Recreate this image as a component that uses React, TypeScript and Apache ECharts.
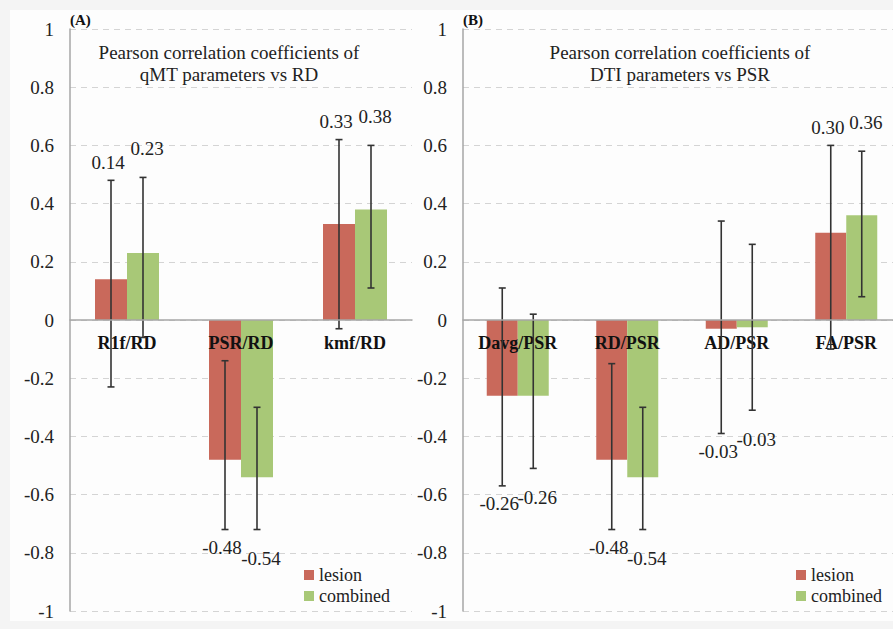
import React, { useEffect, useRef } from "react";
import * as echarts from "echarts";

const catsA = ["R1f/RD", "PSR/RD", "kmf/RD"];
const lesionA = [0.14, -0.48, 0.33];
const combinedA = [0.23, -0.54, 0.38];
const lesionLoA = [-0.23, -0.72, -0.03];
const lesionHiA = [0.48, -0.14, 0.62];
const combinedLoA = [-0.06, -0.72, 0.11];
const combinedHiA = [0.49, -0.3, 0.6];

const catsB = ["Davg/PSR", "RD/PSR", "AD/PSR", "FA/PSR"];
const lesionB = [-0.26, -0.48, -0.03, 0.3];
const combinedB = [-0.26, -0.54, -0.025, 0.36];
const lesionLoB = [-0.57, -0.72, -0.39, -0.1];
const lesionHiB = [0.11, -0.15, 0.34, 0.6];
const combinedLoB = [-0.51, -0.72, -0.31, 0.08];
const combinedHiB = [0.02, -0.3, 0.26, 0.58];

const yTicks = { min: -1, max: 1, interval: 0.2 };

const RED = "#C9695B";
const GREEN = "#A8C877";
const FONT = "Liberation Serif";

function errData(lesion: number[], lo1: number[], hi1: number[], comb: number[], lo2: number[], hi2: number[]) {
  const out: number[][] = [];
  lesion.forEach((v, i) => out.push([i, lo1[i], hi1[i], 0, v]));
  comb.forEach((v, i) => out.push([i, lo2[i], hi2[i], 1, v]));
  return out;
}

function makeErrSeries(idx: number, data: number[][], bw: number) {
  return {
    type: "custom",
    xAxisIndex: idx,
    yAxisIndex: idx,
    z: 6,
    silent: true,
    data,
    renderItem: (_p: any, api: any) => {
      const cat = api.value(0);
      const lo = api.value(1);
      const hi = api.value(2);
      const s = api.value(3);
      const v = api.value(4);
      const c = api.coord([cat, 0]);
      const x = c[0] + (s === 0 ? -bw / 2 : bw / 2);
      const yLo = api.coord([cat, lo])[1];
      const yHi = api.coord([cat, hi])[1];
      const st = { stroke: "#333", lineWidth: 1.6 };
      const off = s === 0 ? 18 : 29;
      const ty = v >= 0 ? yHi - off : yLo + off;
      const tx = x + (s === 0 ? -3 : 4);
      return {
        type: "group",
        children: [
          { type: "line", shape: { x1: x, y1: yLo, x2: x, y2: yHi }, style: st },
          { type: "line", shape: { x1: x - 3.5, y1: yLo, x2: x + 3.5, y2: yLo }, style: st },
          { type: "line", shape: { x1: x - 3.5, y1: yHi, x2: x + 3.5, y2: yHi }, style: st },
          {
            type: "text",
            x: tx,
            y: ty,
            style: {
              text: v.toFixed(2),
              fill: "#222",
              fontFamily: FONT,
              fontSize: 19,
              align: "center",
              verticalAlign: "middle",
            },
          },
        ],
      };
    },
  };
}

function makeCatLabelSeries(idx: number, cats: string[]) {
  return {
    type: "custom",
    xAxisIndex: idx,
    yAxisIndex: idx,
    z: 5,
    silent: true,
    data: cats.map((_c, i) => [i, 0]),
    renderItem: (params: any, api: any) => {
      const p = api.coord([api.value(0), api.value(1)]);
      return {
        type: "text",
        x: p[0],
        y: p[1] + 14,
        style: {
          text: cats[params.dataIndex],
          fill: "#111",
          fontFamily: FONT,
          fontSize: 18,
          fontWeight: "bold",
          align: "center",
          verticalAlign: "top",
        },
      };
    },
  };
}

export default function App() {
  const ref = useRef<HTMLDivElement>(null);
  useEffect(() => {
    document.body.style.margin = "0";
    const chart = echarts.init(ref.current!, undefined, { renderer: "svg" });
    const yAxisBase = {
      type: "value",
      ...yTicks,
      axisLine: { show: true, lineStyle: { color: "#a6a6a6", width: 1.5 } },
      axisTick: { show: false },
      axisLabel: { color: "#222", fontFamily: FONT, fontSize: 19, margin: 16 },
      splitLine: { show: true, lineStyle: { color: "#d4d4d4", type: [6, 5], width: 1 } },
    };
    const xAxisBase = {
      type: "category",
      z: 10,
      axisLine: { onZero: true, lineStyle: { color: "#a6a6a6", width: 1.5 } },
      axisTick: { show: false },
      axisLabel: { show: false },
      splitLine: { show: false },
    };
    const legendBase = {
      top: 566,
      orient: "vertical",
      padding: 0,
      itemWidth: 10,
      itemHeight: 10,
      itemGap: 3,
      icon: "rect",
      data: ["lesion", "combined"],
      textStyle: { fontFamily: FONT, fontSize: 18, color: "#222" },
    };
    const bwA = 32;
    const bwB = 31;
    chart.setOption({
      animation: false,
      backgroundColor: "#f4f4f4",
      grid: [
        { left: 70, top: 29, width: 342, height: 582, outerBoundsMode: "none", containLabel: false },
        { left: 463, top: 29, width: 438, height: 582, outerBoundsMode: "none", containLabel: false },
      ],
      xAxis: [
        { ...xAxisBase, gridIndex: 0, data: catsA },
        { ...xAxisBase, gridIndex: 1, data: catsB },
      ],
      yAxis: [
        { ...yAxisBase, gridIndex: 0 },
        { ...yAxisBase, gridIndex: 1 },
      ],
      legend: [
        { ...legendBase, left: 304 },
        { ...legendBase, left: 796 },
      ],
      graphic: [
        { type: "rect", z: -10, shape: { x: 10, y: 10, width: 883, height: 611 }, style: { fill: "#fdfdfd" } },
        {
          type: "text",
          x: 229,
          y: 41,
          style: {
            text: "Pearson correlation coefficients of\nqMT parameters vs RD",
            fontFamily: FONT,
            fontSize: 19,
            fill: "#222",
            align: "center",
            verticalAlign: "top",
            lineHeight: 22,
          },
        },
        {
          type: "text",
          x: 680,
          y: 41,
          style: {
            text: "Pearson correlation coefficients of\nDTI parameters vs PSR",
            fontFamily: FONT,
            fontSize: 19,
            fill: "#222",
            align: "center",
            verticalAlign: "top",
            lineHeight: 22,
          },
        },
        { type: "text", x: 70, y: 12, style: { text: "(A)", fontFamily: FONT, fontSize: 15, fontWeight: "bold", fill: "#111" } },
        { type: "text", x: 463, y: 12, style: { text: "(B)", fontFamily: FONT, fontSize: 15, fontWeight: "bold", fill: "#111" } },
      ],
      series: [
        { name: "lesion", type: "bar", xAxisIndex: 0, yAxisIndex: 0, data: lesionA, barWidth: bwA, barGap: "0%", itemStyle: { color: RED } },
        { name: "combined", type: "bar", xAxisIndex: 0, yAxisIndex: 0, data: combinedA, barWidth: bwA, barGap: "0%", itemStyle: { color: GREEN } },
        { name: "lesion", type: "bar", xAxisIndex: 1, yAxisIndex: 1, data: lesionB, barWidth: bwB, barGap: "0%", itemStyle: { color: RED } },
        { name: "combined", type: "bar", xAxisIndex: 1, yAxisIndex: 1, data: combinedB, barWidth: bwB, barGap: "0%", itemStyle: { color: GREEN } },
        makeCatLabelSeries(0, catsA),
        makeCatLabelSeries(1, catsB),
        makeErrSeries(0, errData(lesionA, lesionLoA, lesionHiA, combinedA, combinedLoA, combinedHiA), bwA),
        makeErrSeries(1, errData(lesionB, lesionLoB, lesionHiB, combinedB, combinedLoB, combinedHiB), bwB),
      ],
    });
    return () => chart.dispose();
  }, []);
  return <div ref={ref} style={{ width: 893, height: 629, position: "absolute", left: 0, top: 0 }} />;
}
